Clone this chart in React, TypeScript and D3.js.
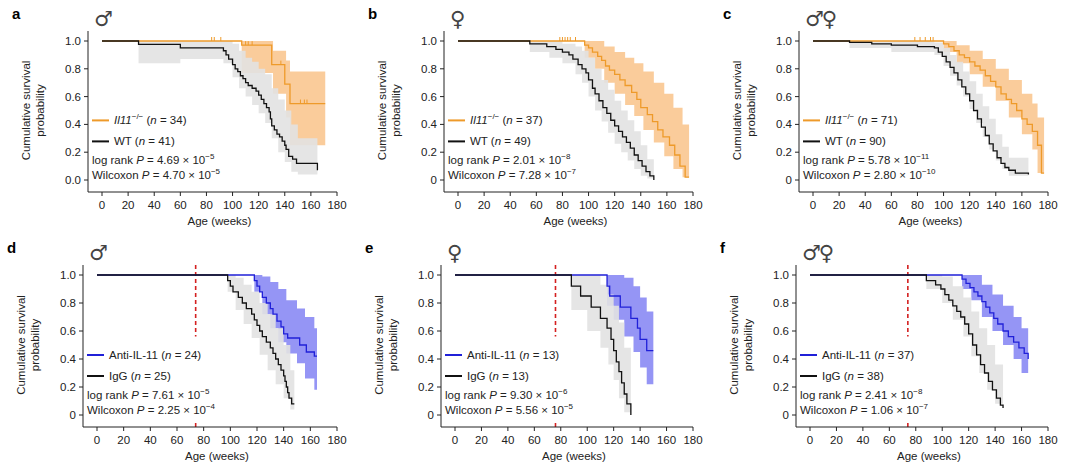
import React from 'react';
import * as d3 from 'd3';

// ---- data: step curves (time where value starts, value), band steps (time, lo, hi) ----
const aWT_t = [0, 28, 60, 93, 95, 97, 100, 102, 104, 106, 108, 110, 112, 115, 118, 120, 122, 124, 126, 128, 129, 130, 132, 134, 136, 138, 140, 141, 143, 146, 149, 165];
const aWT_s = [1, 0.976, 0.95, 0.93, 0.9, 0.87, 0.83, 0.8, 0.78, 0.75, 0.73, 0.7, 0.68, 0.66, 0.64, 0.61, 0.58, 0.55, 0.52, 0.49, 0.44, 0.39, 0.36, 0.33, 0.31, 0.28, 0.25, 0.22, 0.17, 0.15, 0.12, 0.07];
const aWT_bt = [28, 60, 93, 100, 105, 110, 115, 120, 125, 130, 135, 140, 145, 150, 165];
const aWT_lo = [0.84, 0.87, 0.84, 0.74, 0.66, 0.6, 0.54, 0.48, 0.41, 0.3, 0.2, 0.13, 0.06, 0.04, 0.04];
const aWT_hi = [1, 1, 1, 0.98, 0.93, 0.88, 0.85, 0.8, 0.76, 0.66, 0.58, 0.5, 0.4, 0.3, 0.3];
const aKO_t = [0, 107, 130, 140, 144, 171];
const aKO_s = [1, 0.97, 0.83, 0.69, 0.55, 0.55];
const aKO_bt = [107, 131, 141, 144, 171];
const aKO_lo = [0.77, 0.62, 0.45, 0.25, 0.25];
const aKO_hi = [1, 0.93, 0.86, 0.78, 0.78];
const aKO_cens = [84, 86, 91, 110, 112, 115, 137, 152, 155, 157];

const bWT_t = [0, 55, 68, 75, 80, 85, 88, 92, 95, 98, 100, 103, 105, 108, 111, 114, 117, 120, 123, 126, 129, 132, 135, 138, 141, 144, 147, 150];
const bWT_s = [1, 0.98, 0.96, 0.94, 0.92, 0.9, 0.87, 0.83, 0.8, 0.77, 0.72, 0.66, 0.62, 0.57, 0.52, 0.48, 0.43, 0.39, 0.35, 0.31, 0.27, 0.23, 0.18, 0.14, 0.1, 0.06, 0.03, 0.0];
const bWT_bt = [55, 70, 80, 90, 95, 100, 105, 110, 115, 120, 125, 130, 135, 140, 145, 150];
const bWT_lo = [0.92, 0.88, 0.84, 0.76, 0.7, 0.6, 0.5, 0.42, 0.34, 0.26, 0.2, 0.14, 0.08, 0.03, 0.01, 0];
const bWT_hi = [1, 1, 0.98, 0.96, 0.93, 0.88, 0.8, 0.72, 0.65, 0.57, 0.5, 0.43, 0.35, 0.25, 0.15, 0.08];
const bKO_t = [0, 97, 100, 103, 107, 110, 113, 116, 120, 124, 128, 133, 137, 140, 145, 149, 153, 157, 162, 166, 170, 174, 177];
const bKO_s = [1, 0.97, 0.95, 0.92, 0.89, 0.86, 0.82, 0.79, 0.76, 0.72, 0.68, 0.63, 0.58, 0.52, 0.47, 0.42, 0.36, 0.31, 0.25, 0.18, 0.1, 0.02, 0.02];
const bKO_bt = [97, 105, 112, 120, 128, 135, 142, 150, 158, 165, 172, 177];
const bKO_lo = [0.88, 0.8, 0.7, 0.62, 0.54, 0.46, 0.36, 0.27, 0.17, 0.08, 0.02, 0];
const bKO_hi = [1, 1, 0.96, 0.92, 0.88, 0.84, 0.78, 0.7, 0.62, 0.52, 0.4, 0.3];
const bKO_cens = [78, 80, 82, 84, 86, 90];

const cWT_t = [0, 28, 45, 60, 80, 93, 96, 99, 102, 105, 108, 111, 114, 117, 120, 123, 126, 129, 132, 135, 138, 141, 144, 147, 150, 155, 165];
const cWT_s = [1, 0.99, 0.98, 0.97, 0.96, 0.95, 0.92, 0.89, 0.85, 0.81, 0.77, 0.72, 0.67, 0.62, 0.57, 0.5, 0.44, 0.38, 0.32, 0.26, 0.21, 0.16, 0.12, 0.09, 0.07, 0.05, 0.04];
const cWT_bt = [28, 60, 93, 100, 105, 110, 115, 120, 125, 130, 135, 140, 145, 150, 165];
const cWT_lo = [0.95, 0.92, 0.9, 0.82, 0.75, 0.68, 0.6, 0.51, 0.41, 0.31, 0.22, 0.14, 0.08, 0.03, 0.02];
const cWT_hi = [1, 1, 0.99, 0.95, 0.9, 0.85, 0.78, 0.71, 0.62, 0.53, 0.44, 0.33, 0.24, 0.16, 0.12];
const cKO_t = [0, 100, 104, 108, 112, 116, 120, 124, 128, 132, 136, 140, 144, 148, 152, 156, 160, 164, 168, 172, 175, 177];
const cKO_s = [1, 0.98, 0.96, 0.93, 0.9, 0.88, 0.85, 0.82, 0.79, 0.75, 0.71, 0.67, 0.62, 0.58, 0.55, 0.5, 0.44, 0.4, 0.35, 0.25, 0.05, 0.05];
const cKO_bt = [100, 110, 120, 130, 140, 150, 160, 168, 172, 177];
const cKO_lo = [0.92, 0.84, 0.76, 0.67, 0.57, 0.45, 0.33, 0.22, 0.05, 0];
const cKO_hi = [1, 0.97, 0.93, 0.87, 0.8, 0.72, 0.62, 0.55, 0.45, 0.35];
const cKO_cens = [78, 82, 86, 90, 92];

const dIgG_t = [0, 98, 100, 102, 106, 109, 112, 116, 118, 120, 122, 124, 127, 130, 132, 134, 136, 138, 140, 141, 142, 143, 144, 146, 148];
const dIgG_s = [1, 0.96, 0.92, 0.88, 0.84, 0.8, 0.76, 0.72, 0.68, 0.64, 0.6, 0.56, 0.52, 0.48, 0.44, 0.4, 0.36, 0.32, 0.28, 0.24, 0.2, 0.16, 0.12, 0.08, 0.08];
const dIgG_bt = [98, 104, 110, 116, 122, 128, 134, 140, 145, 148];
const dIgG_lo = [0.88, 0.75, 0.65, 0.55, 0.43, 0.32, 0.22, 0.12, 0.04, 0.02];
const dIgG_hi = [1, 0.98, 0.93, 0.88, 0.8, 0.72, 0.62, 0.5, 0.32, 0.25];
const dAb_t = [0, 118, 120, 122, 124, 127, 130, 132, 135, 138, 140, 143, 152, 157, 163, 165];
const dAb_s = [1, 0.96, 0.92, 0.88, 0.84, 0.8, 0.76, 0.72, 0.67, 0.63, 0.58, 0.55, 0.5, 0.45, 0.42, 0.42];
const dAb_bt = [118, 124, 130, 136, 142, 150, 156, 163, 165];
const dAb_lo = [0.88, 0.72, 0.62, 0.52, 0.44, 0.37, 0.26, 0.18, 0.18];
const dAb_hi = [1, 0.99, 0.95, 0.9, 0.82, 0.76, 0.7, 0.62, 0.62];

const eIgG_t = [0, 88, 95, 103, 110, 115, 118, 120, 122, 124, 126, 128, 130, 133];
const eIgG_s = [1, 0.92, 0.85, 0.77, 0.69, 0.62, 0.54, 0.46, 0.38, 0.31, 0.23, 0.15, 0.08, 0.0];
const eIgG_bt = [88, 100, 110, 116, 120, 124, 128, 133];
const eIgG_lo = [0.75, 0.6, 0.48, 0.36, 0.25, 0.12, 0.02, 0];
const eIgG_hi = [1, 1, 0.93, 0.86, 0.78, 0.66, 0.48, 0.3];
const eAb_t = [0, 115, 117, 125, 133, 138, 140, 145, 148, 150];
const eAb_s = [1, 0.92, 0.85, 0.77, 0.69, 0.62, 0.54, 0.46, 0.46, 0.46];
const eAb_bt = [115, 120, 128, 135, 140, 145, 150];
const eAb_lo = [0.78, 0.68, 0.56, 0.45, 0.34, 0.22, 0.22];
const eAb_hi = [1, 1, 0.98, 0.92, 0.84, 0.74, 0.74];

const fIgG_t = [0, 88, 95, 99, 102, 105, 108, 111, 114, 117, 120, 123, 126, 129, 132, 135, 138, 141, 144, 146];
const fIgG_s = [1, 0.96, 0.93, 0.9, 0.86, 0.82, 0.78, 0.74, 0.7, 0.65, 0.58, 0.5, 0.43, 0.36, 0.3, 0.24, 0.18, 0.12, 0.07, 0.05];
const fIgG_bt = [88, 100, 108, 116, 122, 128, 134, 140, 146];
const fIgG_lo = [0.9, 0.8, 0.68, 0.56, 0.42, 0.3, 0.18, 0.08, 0.02];
const fIgG_hi = [1, 0.99, 0.92, 0.84, 0.74, 0.62, 0.5, 0.36, 0.2];
const fAb_t = [0, 115, 118, 121, 124, 127, 130, 133, 136, 139, 142, 146, 150, 154, 158, 162, 165];
const fAb_s = [1, 0.97, 0.94, 0.91, 0.88, 0.85, 0.81, 0.77, 0.73, 0.69, 0.65, 0.6, 0.56, 0.52, 0.48, 0.44, 0.4];
const fAb_bt = [115, 122, 130, 138, 146, 154, 160, 165];
const fAb_lo = [0.9, 0.82, 0.7, 0.6, 0.5, 0.4, 0.3, 0.3];
const fAb_hi = [1, 1, 0.93, 0.86, 0.78, 0.7, 0.62, 0.62];

const xTicks = [0, 20, 40, 60, 80, 100, 120, 140, 160, 180];
const yTicks = [0, 0.2, 0.4, 0.6, 0.8, 1.0];

const ORANGE = '#ee9a2a', ORANGE_BAND = '#fac690';
const BLUE = '#2020d8', BLUE_BAND = '#8a8af4';
const BLACK = '#111', GRAY_BAND = '#e2e2e2';

interface Curve { t: number[]; s: number[]; bt: number[]; lo: number[]; hi: number[]; color: string; band: string; cens?: number[] }
interface PanelProps {
  letter: string; sex: string; x0: number; x1: number; yTop: number; yBot: number;
  zeroLabel: string; curves: Curve[]; legend: React.ReactNode[]; stats: React.ReactNode[]; dash?: number;
}

const font = 'Liberation Sans, Arial, sans-serif';

const Panel: React.FC<PanelProps> = ({ letter, sex, x0, x1, yTop, yBot, zeroLabel, curves, legend, stats, dash }) => {
  const x = d3.scaleLinear().domain([0, 180]).range([x0, x1]);
  const y = d3.scaleLinear().domain([0, 1]).range([yBot, yTop]);
  const axX = x0 - 14, axY = yBot + 12;
  const line = d3.line<[number, number]>().x(d => x(d[0])).y(d => y(d[1])).curve(d3.curveStepAfter);
  const area = d3.area<[number, number, number]>().x(d => x(d[0])).y0(d => y(d[1])).y1(d => y(d[2])).curve(d3.curveStepAfter);
  const pts = (c: Curve) => c.t.map((t, i) => [t, c.s[i]] as [number, number]);
  const bpts = (c: Curve) => c.bt.map((t, i) => [t, c.lo[i], c.hi[i]] as [number, number, number]);
  return (
    <g fontFamily={font}>
      <text x={axX - 76} y={yTop - 22} fontWeight="bold" fontSize={15}>{letter}</text>
      <text x={x0 - 8} y={yTop - 15} fontSize={21} fill="#444" fontFamily="DejaVu Sans" letterSpacing={-2}>{sex}</text>
      {curves.map((c, i) => <path key={'b' + i} d={area(bpts(c)) ?? ''} fill={c.band} opacity={0.9} />)}
      {dash !== undefined && <line x1={x(dash)} x2={x(dash)} y1={yTop - 10} y2={y(0.56)} stroke="#d42020" strokeWidth={1.6} strokeDasharray="4,3" />}
      {dash !== undefined && <line x1={x(dash)} x2={x(dash)} y1={axY} y2={y(-0.05)} stroke="#d42020" strokeWidth={1.6} strokeDasharray="4,3" />}
      {curves.map((c, i) => <path key={'l' + i} d={line(pts(c)) ?? ''} fill="none" stroke={c.color} strokeWidth={1.3} />)}
      {curves.map((c, i) => (c.cens ?? []).map((t, j) => {
        const k = d3.bisectRight(c.t, t) - 1;
        return <line key={`c${i}-${j}`} x1={x(t)} x2={x(t)} y1={y(c.s[k]) - 4} y2={y(c.s[k])} stroke={c.color} strokeWidth={1} />;
      }))}
      <line x1={axX} x2={axX} y1={yTop - 10} y2={axY} stroke="#222" />
      <line x1={axX} x2={x(180)} y1={axY} y2={axY} stroke="#222" />
      {yTicks.map(v => (
        <g key={v}>
          <line x1={axX - 4} x2={axX} y1={y(v)} y2={y(v)} stroke="#222" />
          <text x={axX - 7} y={y(v) + 4} fontSize={11.5} textAnchor="end" fill="#222">{v === 0 ? zeroLabel : v.toFixed(1)}</text>
        </g>
      ))}
      {xTicks.map(v => (
        <g key={v}>
          <line x1={x(v)} x2={x(v)} y1={axY} y2={axY + 4} stroke="#222" />
          <text x={x(v)} y={axY + 17} fontSize={11.5} textAnchor="middle" fill="#222">{v}</text>
        </g>
      ))}
      <text x={x(90)} y={axY + 33} fontSize={11.5} textAnchor="middle" fill="#222">Age (weeks)</text>
      <text transform={`translate(${axX - 54},${(yTop + yBot) / 2}) rotate(-90)`} fontSize={11.5} textAnchor="middle" fill="#222">
        <tspan x={0} dy={-4}>Cumulative survival</tspan>
        <tspan x={0} dy={14}>probability</tspan>
      </text>
      {legend.map((node, i) => (
        <g key={'lg' + i} transform={`translate(${axX + 4},${y(0.4) - 4 + i * 21})`}>
          <line x1={0} x2={17} y1={0} y2={0} stroke={curves[i].color} strokeWidth={2} />
          <text x={22} y={4} fontSize={11.5} fill="#222">{node}</text>
        </g>
      ))}
      {stats.map((node, i) => (
        <text key={'st' + i} x={axX + 4} y={y(0.4) + 40 + i * 15} fontSize={11.5} fill="#222">{node}</text>
      ))}
    </g>
  );
};

const ko = (n: number) => (<><tspan fontStyle="italic">Il11</tspan><tspan fontSize={8} dy={-5}>−/−</tspan><tspan dy={5}> (</tspan><tspan fontStyle="italic">n</tspan> = {n})</>);
const lab = (name: string, n: number) => (<>{name} (<tspan fontStyle="italic">n</tspan> = {n})</>);
const pv = (kind: string, m: string, e: string) => (<>{kind} <tspan fontStyle="italic">P</tspan> = {m} × 10<tspan fontSize={8} dy={-5}>{e}</tspan></>);

const mk = (t: number[], s: number[], bt: number[], lo: number[], hi: number[], color: string, band: string, cens?: number[]): Curve => ({ t, s, bt, lo, hi, color, band, cens });

const App: React.FC = () => (
  <svg width={1080} height={471} style={{ display: 'block', position: 'absolute', left: 0, top: 0, background: '#fff' }}>
    <Panel letter="a" sex="♂" x0={102} x1={337} yTop={41} yBot={180} zeroLabel="0.0"
      curves={[mk(aKO_t, aKO_s, aKO_bt, aKO_lo, aKO_hi, ORANGE, ORANGE_BAND, aKO_cens), mk(aWT_t, aWT_s, aWT_bt, aWT_lo, aWT_hi, BLACK, GRAY_BAND)]}
      legend={[ko(34), lab('WT', 41)]} stats={[pv('log rank', '4.69', '−5'), pv('Wilcoxon', '4.70', '−5')]} />
    <Panel letter="b" sex="♀" x0={458} x1={693} yTop={41} yBot={180} zeroLabel="0"
      curves={[mk(bKO_t, bKO_s, bKO_bt, bKO_lo, bKO_hi, ORANGE, ORANGE_BAND, bKO_cens), mk(bWT_t, bWT_s, bWT_bt, bWT_lo, bWT_hi, BLACK, GRAY_BAND)]}
      legend={[ko(37), lab('WT', 49)]} stats={[pv('log rank', '2.01', '−8'), pv('Wilcoxon', '7.28', '−7')]} />
    <Panel letter="c" sex="♂♀" x0={813} x1={1048} yTop={41} yBot={180} zeroLabel="0"
      curves={[mk(cKO_t, cKO_s, cKO_bt, cKO_lo, cKO_hi, ORANGE, ORANGE_BAND, cKO_cens), mk(cWT_t, cWT_s, cWT_bt, cWT_lo, cWT_hi, BLACK, GRAY_BAND)]}
      legend={[ko(71), lab('WT', 90)]} stats={[pv('log rank', '5.78', '−11'), pv('Wilcoxon', '2.80', '−10')]} />
    <Panel letter="d" sex="♂" x0={97} x1={337} yTop={275} yBot={415} zeroLabel="0" dash={74}
      curves={[mk(dAb_t, dAb_s, dAb_bt, dAb_lo, dAb_hi, BLUE, BLUE_BAND), mk(dIgG_t, dIgG_s, dIgG_bt, dIgG_lo, dIgG_hi, BLACK, GRAY_BAND)]}
      legend={[lab('Anti-IL-11', 24), lab('IgG', 25)]} stats={[pv('log rank', '7.61', '−5'), pv('Wilcoxon', '2.25', '−4')]} />
    <Panel letter="e" sex="♀" x0={455} x1={693} yTop={275} yBot={415} zeroLabel="0" dash={76}
      curves={[mk(eAb_t, eAb_s, eAb_bt, eAb_lo, eAb_hi, BLUE, BLUE_BAND), mk(eIgG_t, eIgG_s, eIgG_bt, eIgG_lo, eIgG_hi, BLACK, GRAY_BAND)]}
      legend={[lab('Anti-IL-11', 13), lab('IgG', 13)]} stats={[pv('log rank', '9.30', '−6'), pv('Wilcoxon', '5.56', '−5')]} />
    <Panel letter="f" sex="♂♀" x0={810} x1={1048} yTop={275} yBot={415} zeroLabel="0" dash={74}
      curves={[mk(fAb_t, fAb_s, fAb_bt, fAb_lo, fAb_hi, BLUE, BLUE_BAND), mk(fIgG_t, fIgG_s, fIgG_bt, fIgG_lo, fIgG_hi, BLACK, GRAY_BAND)]}
      legend={[lab('Anti-IL-11', 37), lab('IgG', 38)]} stats={[pv('log rank', '2.41', '−8'), pv('Wilcoxon', '1.06', '−7')]} />
  </svg>
);

export default App;
